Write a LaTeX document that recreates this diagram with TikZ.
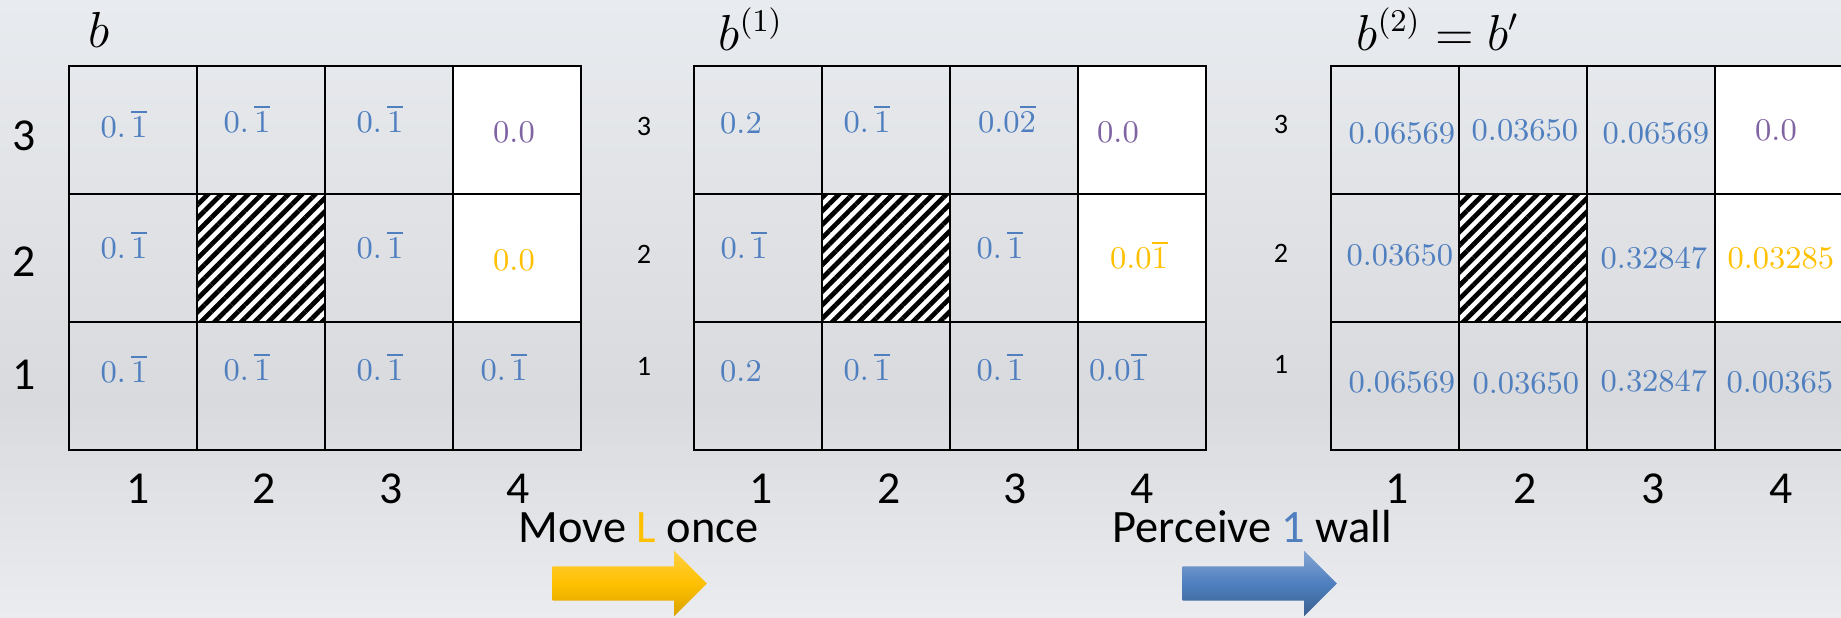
\documentclass[tikz,border=0pt]{standalone}
\usepackage[no-math]{fontspec}
\setmainfont{Carlito}
\usepackage{amsmath}
\usepackage{xcolor}
\usepackage{tikz}
\usetikzlibrary{shapes.arrows,patterns.meta}
\definecolor{valblue}{HTML}{4F7FBF}
\definecolor{valpurple}{HTML}{8064A2}
\definecolor{valorange}{HTML}{FFC000}
\definecolor{bgtop}{HTML}{E8EBEF}
\definecolor{bgmid}{HTML}{D9DADD}
\definecolor{bgbot}{HTML}{EAECEF}
\tikzset{
  cell/.style={rectangle,draw=black,line width=.8pt,minimum width=1.28cm,minimum height=1.28cm,inner sep=0pt},
  free/.style={cell,fill=white},
  wall/.style={cell,fill=white,postaction={pattern={Lines[angle=45,distance=2.7pt,line width=1.35pt]}}},
  val/.style={anchor=base,inner sep=0pt,font=\fontsize{9.5}{11}\selectfont,text=valblue},
  valp/.style={val,text=valpurple},
  valo/.style={val,text=valorange},
  ax/.style={inner sep=0pt,font=\fontsize{13}{15}\selectfont},
  axs/.style={inner sep=0pt,font=\fontsize{8}{10}\selectfont},
  ttl/.style={anchor=base west,inner sep=0pt,font=\fontsize{13.5}{16}\selectfont},
  mvtxt/.style={anchor=base west,inner sep=0pt,font=\fontsize{13.2}{16}\selectfont},
  bigarrow/.style={single arrow,anchor=tail,single arrow head extend=.155cm,minimum height=1.54cm,inner xsep=0pt,inner ysep=.165cm},
  arrY/.style={bigarrow,top color=valorange!75!white,bottom color=valorange!85!black,middle color=valorange},
  arrB/.style={bigarrow,top color=valblue!70!white,bottom color=valblue!75!black,middle color=valblue}
}

\begin{document}
\begin{tikzpicture}[x=0.01cm,y=-0.01cm]
  \useasboundingbox (0,0) rectangle (1841,617);
  % background
  \shade[top color=bgtop,bottom color=bgmid] (0,0) rectangle (1841,402);
  \shade[top color=bgmid,bottom color=bgbot] (0,400) rectangle (1841,617);

  % three grids, cells named g<grid>c<col>r<row>
  \foreach \g/\x in {1/69,2/694,3/1331}
    \foreach \c/\r/\s in {1/3/cell,2/3/cell,3/3/cell,4/3/free,
                          1/2/cell,2/2/wall,3/2/cell,4/2/free,
                          1/1/cell,2/1/cell,3/1/cell,4/1/cell}
      \node[\s] (g\g c\c r\r) at ({\x+64+128*(\c-1)},{130+128*(3-\r)}) {};

  % titles
  \node[ttl] (t1) at (88,47) {$b$};
  \node[ttl] (t2) at (718,50) {$b^{(1)}$};
  \node[ttl] (t3) at (1356,50) {$b^{(2)}=b'$};

  % row labels
  \node[ax] (g1y3) at (24,136) {3};
  \node[ax] (g1y2) at (24,262) {2};
  \node[ax] (g1y1) at (24,375) {1};
  \node[axs] (g2y3) at (644,126) {3};
  \node[axs] (g2y2) at (644,254) {2};
  \node[axs] (g2y1) at (644,366) {1};
  \node[axs] (g3y3) at (1281,124) {3};
  \node[axs] (g3y2) at (1281,253) {2};
  \node[axs] (g3y1) at (1281,364) {1};

  % column labels
  \foreach \n/\x in {1/138,2/264,3/391,4/518} \node[ax] (g1x\n) at (\x,489) {\n};
  \foreach \n/\x in {1/761,2/889,3/1015,4/1142} \node[ax] (g2x\n) at (\x,489) {\n};
  \foreach \n/\x in {1/1397,2/1525,3/1653,4/1781} \node[ax] (g3x\n) at (\x,489) {\n};

  % belief b
  \node[val] (b13) at (124,137) {$0.\,\overline{1}$};
  \node[val] (b23) at (247,132) {$0.\,\overline{1}$};
  \node[val] (b33) at (380,132) {$0.\,\overline{1}$};
  \node[valp] (b43) at (514,142) {$0.0$};
  \node[val] (b12) at (124,258) {$0.\,\overline{1}$};
  \node[val] (b32) at (380,258) {$0.\,\overline{1}$};
  \node[valo] (b42) at (514,270) {$0.0$};
  \node[val] (b11) at (124,382) {$0.\,\overline{1}$};
  \node[val] (b21) at (247,380) {$0.\,\overline{1}$};
  \node[val] (b31) at (380,380) {$0.\,\overline{1}$};
  \node[val] (b41) at (504,380) {$0.\,\overline{1}$};

  % belief b^(1)
  \node[val] (c13) at (741,133) {$0.2$};
  \node[val] (c23) at (867,132) {$0.\,\overline{1}$};
  \node[val] (c33) at (1007,132) {$0.0\overline{2}$};
  \node[valp] (c43) at (1118,142) {$0.0$};
  \node[val] (c12) at (744,258) {$0.\,\overline{1}$};
  \node[val] (c32) at (1000,258) {$0.\,\overline{1}$};
  \node[valo] (c42) at (1139,268) {$0.0\overline{1}$};
  \node[val] (c11) at (741,381) {$0.2$};
  \node[val] (c21) at (867,380) {$0.\,\overline{1}$};
  \node[val] (c31) at (1000,380) {$0.\,\overline{1}$};
  \node[val] (c41) at (1118,380) {$0.0\overline{1}$};

  % belief b^(2)
  \node[val] (d13) at (1402,143) {$0.06569$};
  \node[val] (d23) at (1525,140) {$0.03650$};
  \node[val] (d33) at (1656,143) {$0.06569$};
  \node[valp] (d43) at (1776,140) {$0.0$};
  \node[val] (d12) at (1400,265) {$0.03650$};
  \node[val] (d32) at (1654,268) {$0.32847$};
  \node[valo] (d42) at (1781,268) {$0.03285$};
  \node[val] (d11) at (1402,392) {$0.06569$};
  \node[val] (d21) at (1526,393) {$0.03650$};
  \node[val] (d31) at (1654,391) {$0.32847$};
  \node[val] (d41) at (1780,392) {$0.00365$};

  % steps
  \node[mvtxt] (movetxt) at (518,542) {Move \textcolor{valorange}{L} once};
  \node[mvtxt] (perctxt) at (1112,542) {Perceive \textcolor{valblue}{1} wall};
  \node[arrY] (movearr) at (552,583.5) {};
  \node[arrB] (percarr) at (1182,583.5) {};
\end{tikzpicture}
\end{document}
